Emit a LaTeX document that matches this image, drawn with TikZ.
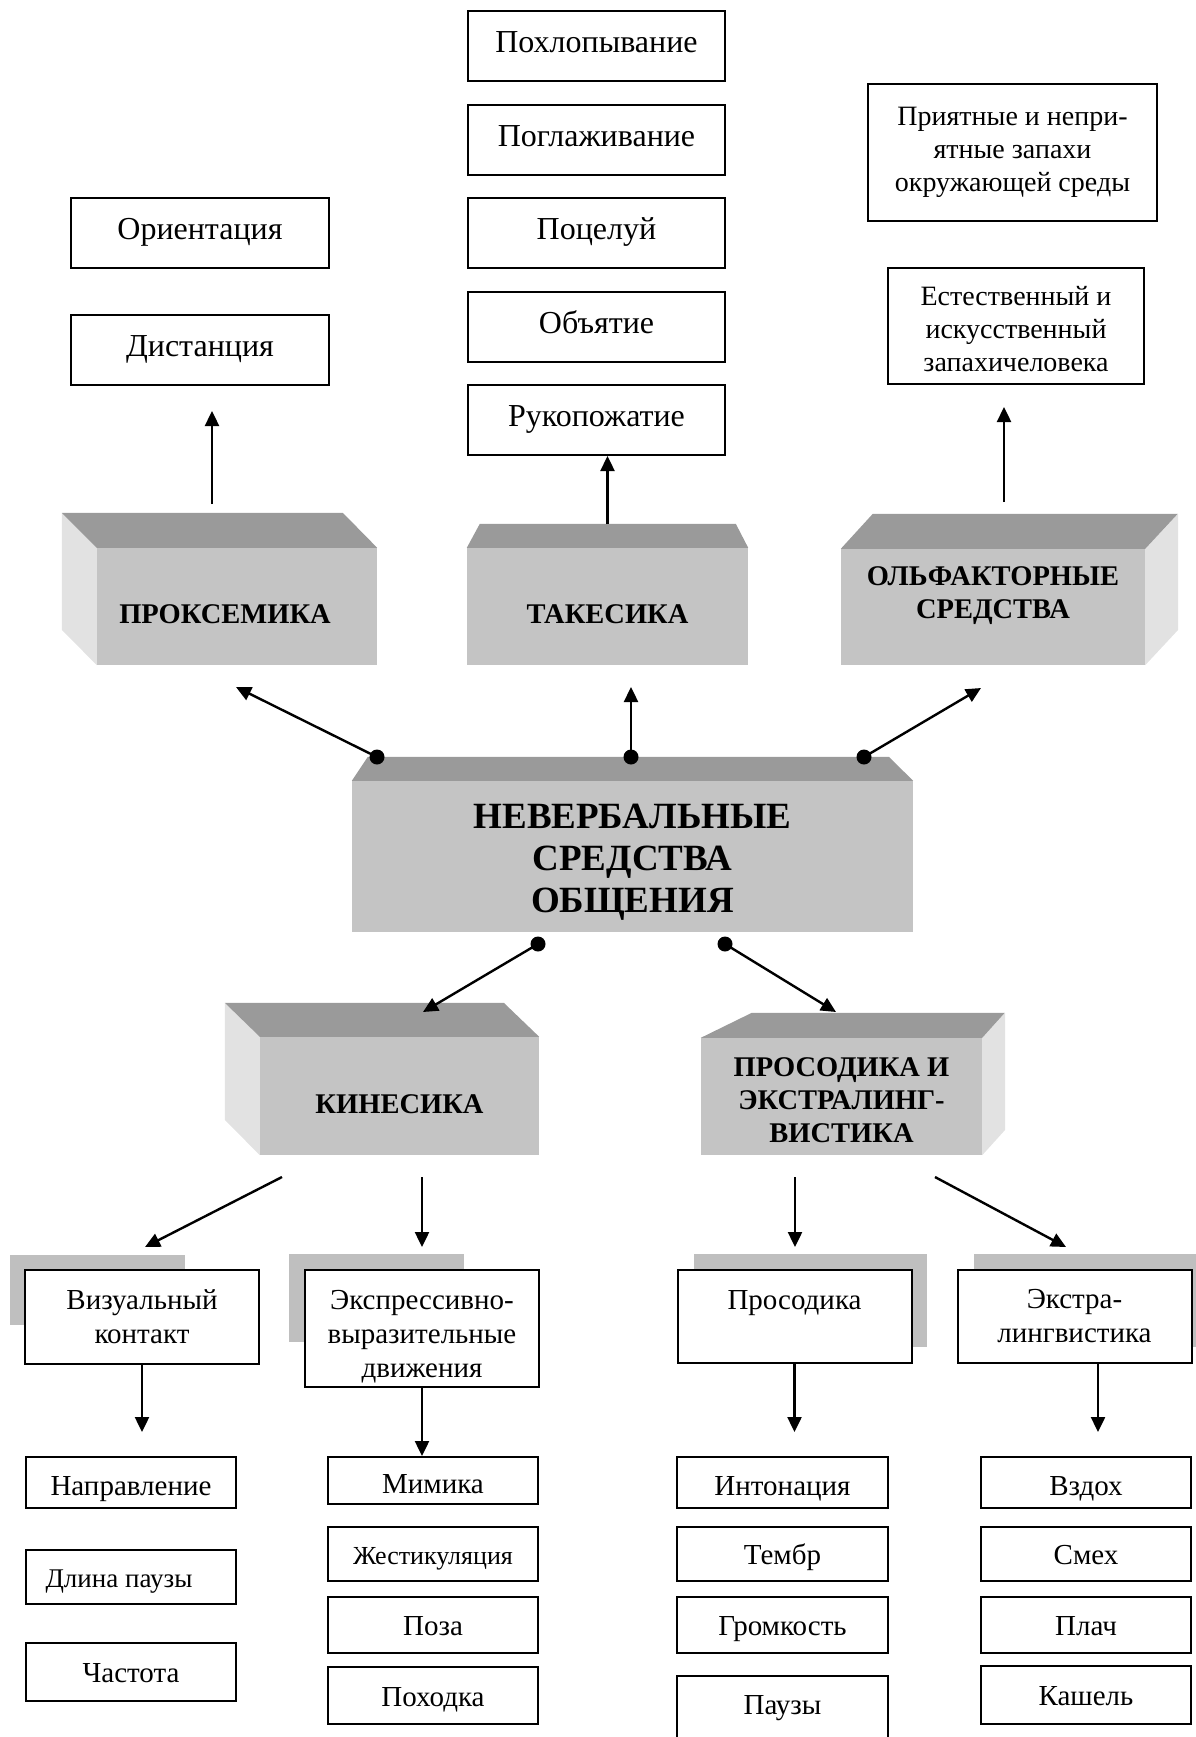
\documentclass[tikz,border=0pt]{standalone}
\usepackage{fontspec}
\setmainfont{Liberation Serif}
\usetikzlibrary{positioning,arrows.meta}

\definecolor{frontgray}{HTML}{C4C4C4}
\definecolor{topgray}{HTML}{9A9A9A}
\definecolor{sidegray}{HTML}{E2E2E2}
\definecolor{shadowgray}{HTML}{BFBFBF}

\tikzset{
	boxline/.style={draw, line width=2pt, fill=white, inner sep=0pt, align=center},
	leaf/.style={boxline, minimum width=257pt, minimum height=70pt, text height=21pt, text depth=8pt, font=\fontsize{32}{36}\selectfont},
	note/.style={boxline, font=\fontsize{28}{33}\selectfont},
	branch/.style={boxline, minimum width=234pt, font=\fontsize{29}{34}\selectfont},
	subbox/.style={boxline, minimum width=210pt, text height=21pt, text depth=0pt, font=\fontsize{29}{34}\selectfont},
	blockface/.style={fill=frontgray, inner sep=0pt, align=center, font=\fontsize{28.5}{33}\selectfont\bfseries},
	topface/.style={fill=topgray},
	sideface/.style={fill=sidegray},
	backshadow/.style={fill=shadowgray},
	joint/.style={circle, fill=black, inner sep=0pt, minimum size=15pt},
	link/.style={line width=2.4pt, -{Triangle[length=15pt,width=14pt]}},
}

\begin{document}
\begin{tikzpicture}[x=1pt,y=-1pt]
	\useasboundingbox (0,0) rectangle (1195,1737);

	\node[leaf] (shake) at (596.5,420) {Рукопожатие};
	\node[leaf, above=21.5pt of shake] (hug) {Объятие};
	\node[leaf, above=21.5pt of hug] (kiss) {Поцелуй};
	\node[leaf, above=21.5pt of kiss] (stroke) {Поглаживание};
	\node[leaf, above=21.5pt of stroke] (pat) {Похлопывание};

	\node[leaf, minimum width=258pt] (dist) at (200,350) {Дистанция};
	\node[leaf, minimum width=258pt, above=45pt of dist] (orient) {Ориентация};

	\node[note, minimum width=289pt, minimum height=137pt] (smell) at (1012.5,152) {Приятные и непри-\\ятные запахи\\окружающей среды};
	\node[note, minimum width=256pt, minimum height=116pt] (odour) at (1016,326) {\rule{0pt}{26pt}Естественный и\\искусственный\\запахичеловека};

	\node[blockface, minimum width=280pt, minimum height=117pt, text height=34pt] (prox) at (237,606.5) {ПРОКСЕМИКА\hspace*{24pt}};
	\fill[sideface] (prox.north west) -- ++(-35,-35) -- ++(0,117) -- (prox.south west) -- cycle;
	\fill[topface] (prox.north west) -- ++(-35,-35) -- ++(281,0) -- (prox.north east) -- cycle;

	\node[blockface, minimum width=281pt, minimum height=117pt, text height=34pt] (takes) at (607.5,606.5) {ТАКЕСИКА};
	\fill[topface] (takes.north west) -- ++(13,-24) -- ++(256,0) -- (takes.north east) -- cycle;

	\node[blockface, minimum width=304pt, minimum height=116pt] (olf) at (993,607) {\rule{0pt}{22pt}ОЛЬФАКТОРНЫЕ\\СРЕДСТВА\\\mbox{}};
	\fill[sideface] (olf.north east) -- ++(33,-35) -- ++(0,116) -- (olf.south east) -- cycle;
	\fill[topface] (olf.north west) -- ++(32,-35) -- ++(305,0) -- (olf.north east) -- cycle;

	\node[blockface, minimum width=561pt, minimum height=151pt, font=\fontsize{37}{42}\selectfont\bfseries] (nvs) at (632.5,856.5) {\rule{0pt}{35pt}НЕВЕРБАЛЬНЫЕ\\СРЕДСТВА\\ОБЩЕНИЯ};
	\fill[topface] (nvs.north west) -- ++(16,-24) -- ++(521,0) -- (nvs.north east) -- cycle;

	\node[blockface, minimum width=279pt, minimum height=118pt, text height=35pt] (kines) at (399.5,1096) {КИНЕСИКА};
	\fill[sideface] (kines.north west) -- ++(-35,-34) -- ++(0,117) -- (kines.south west) -- cycle;
	\fill[topface] (kines.north west) -- ++(-35,-34) -- ++(279,0) -- (kines.north east) -- cycle;

	\node[blockface, minimum width=281pt, minimum height=117pt] (pros) at (841.5,1096.5) {\rule{0pt}{27pt}ПРОСОДИКА И\\ЭКСТРАЛИНГ-\\ВИСТИКА};
	\fill[sideface] (pros.north east) -- ++(23,-25) -- ++(0,117) -- (pros.south east) -- cycle;
	\fill[topface] (pros.north west) -- ++(51,-25) -- ++(253,0) -- (pros.north east) -- cycle;

	\node[joint] (jprox) at (377,757) {};
	\node[joint] (jtakes) at (631,757) {};
	\node[joint] (jolf) at (864,757) {};
	\node[joint] (jkines) at (538,944) {};
	\node[joint] (jpros) at (725,944) {};

	\coordinate (proxin) at (236,687);
	\coordinate (takesin) at (631,687);
	\coordinate (olfin) at (981,688);
	\coordinate (kinesin) at (423,1012);
	\coordinate (prosin) at (836,1012);

	\draw[link] (jprox.center) -- (proxin);
	\draw[link] (jtakes.center) -- (takesin);
	\draw[link] (jolf.center) -- (olfin);
	\draw[link] (jkines.center) -- (kinesin);
	\draw[link] (jpros.center) -- (prosin);

	\coordinate (proxout) at (212,504);
	\coordinate (distin) at (212,411);
	\coordinate (takesout) at (607.5,524);
	\coordinate (olfout) at (1004,502);
	\coordinate (odourin) at (1004,407);

	\draw[link] (proxout) -- (distin);
	\draw[link] (takesout) -- (takesout |- shake.south);
	\draw[link] (olfout) -- (odourin);

	\fill[backshadow] (10,1255) rectangle (185,1325);
	\fill[backshadow] (289,1254) rectangle (464,1342);
	\fill[backshadow] (694,1254) rectangle (927,1347);
	\fill[backshadow] (974,1254) rectangle (1207,1347);

	\node[branch, minimum height=94pt] (visual) at (142,1317) {Визуальный\\контакт};
	\node[branch, minimum height=117pt] (expr) at (422,1328.5) {\rule{0pt}{36pt}Экспрессивно-\\выразительные\\движения};
	\node[branch, minimum height=93pt] (prosbox) at (794.5,1316.5) {Просодика\\\mbox{}};
	\node[branch, minimum height=93pt] (extra) at (1074.5,1316.5) {Экстра-\\лингвистика};

	\coordinate (kinesl) at (282,1177);
	\coordinate (visualin) at (145,1247);
	\coordinate (kinesr) at (422,1177);
	\coordinate (exprin) at (422,1247);
	\coordinate (prosl) at (795,1177);
	\coordinate (prosboxin) at (795,1247);
	\coordinate (prosr) at (935,1177);
	\coordinate (extrain) at (1066,1247);

	\draw[link] (kinesl) -- (visualin);
	\draw[link] (kinesr) -- (exprin);
	\draw[link] (prosl) -- (prosboxin);
	\draw[link] (prosr) -- (extrain);

	\node[subbox, minimum height=51pt, text height=26pt] (napr) at (131,1482.5) {Направление};
	\node[subbox, minimum height=54pt, below=40pt of napr, font=\fontsize{27}{30}\selectfont] (pauselen) {Длина паузы\hspace*{24pt}};
	\node[subbox, minimum height=58pt, below=37pt of pauselen] (freq) {Частота};

	\node[subbox, minimum height=47pt, text height=26pt] (mim) at (433,1480.5) {Мимика};
	\node[subbox, minimum height=54pt, below=21pt of mim, font=\fontsize{26}{30}\selectfont] (gest) {Жестикуляция};
	\node[subbox, minimum height=56pt, below=14pt of gest] (pose) {Поза};
	\node[subbox, minimum height=57pt, below=12pt of pose] (gait) {Походка};

	\node[subbox, minimum width=211pt, minimum height=51pt, text height=26pt] (inton) at (782.5,1482.5) {Интонация};
	\node[subbox, minimum width=211pt, minimum height=54pt, below=17pt of inton] (timbre) {Тембр};
	\node[subbox, minimum width=211pt, minimum height=56pt, below=14pt of timbre] (loud) {Громкость};
	\node[subbox, minimum width=211pt, minimum height=69pt, below=21pt of loud, text height=14pt, text depth=6pt] (pauses) {Паузы};

	\node[subbox, minimum height=51pt, text height=26pt] (sigh) at (1086,1482.5) {Вздох};
	\node[subbox, minimum height=54pt, below=17pt of sigh] (laugh) {Смех};
	\node[subbox, minimum height=56pt, below=14pt of laugh] (cry) {Плач};
	\node[subbox, minimum height=58pt, below=11pt of cry] (cough) {Кашель};

	\coordinate (naprin) at (142,1432);
	\coordinate (intonin) at (794.5,1432);
	\coordinate (sighin) at (1098,1432);

	\draw[link] (visual.south) -- (naprin);
	\draw[link] (expr.south) -- (expr.south |- mim.north);
	\draw[link] (prosbox.south) -- (intonin);
	\draw[link] ([xshift=23.5pt]extra.south) -- (sighin);
\end{tikzpicture}
\end{document}
